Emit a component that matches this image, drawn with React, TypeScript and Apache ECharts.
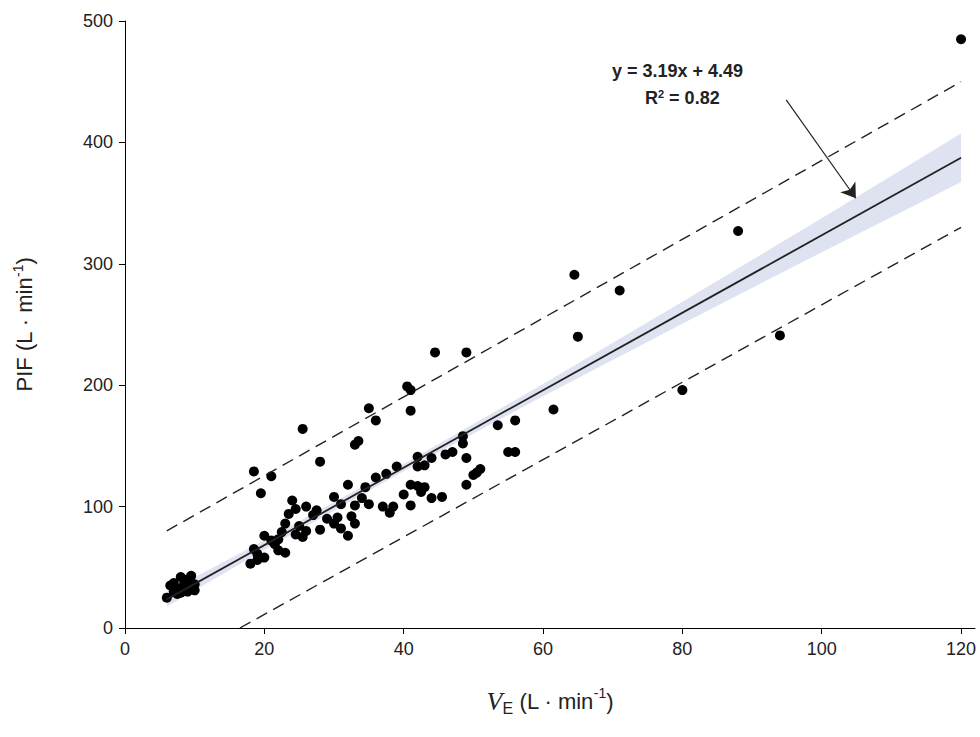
import React, { useRef, useEffect } from 'react';
import * as echarts from 'echarts';

// measured points (VE, PIF)
const points: number[][] = [
    [120, 485], [88, 327], [64.5, 291], [71, 278], [65, 240], [94, 241], [80, 196], [61.5, 180],
    [56, 171], [53.5, 167], [55, 145], [56, 145], [49, 227], [44.5, 227], [40.5, 199], [41, 196],
    [41, 179], [35, 181], [36, 171], [33, 151], [33.5, 154], [25.5, 164], [28, 137], [18.5, 129],
    [21, 125], [19.5, 111], [48.5, 158], [48.5, 152], [47, 145], [46, 143], [49, 140], [44, 140],
    [42, 141], [43, 134], [42, 133], [39, 133], [37.5, 127], [36, 124], [34.5, 116], [32, 118],
    [30, 108], [31, 102], [33, 101], [34, 107], [35, 102], [37, 100], [38.5, 100], [38, 95],
    [40, 110], [41, 118], [42, 117], [43, 116], [42.5, 112], [44, 107], [41, 101], [45.5, 108],
    [49, 118], [50.5, 128], [51, 131], [50, 126], [32.5, 92], [30, 86], [31, 82], [30.5, 91],
    [32, 76], [33, 86], [29, 90], [27.5, 97], [26, 100], [27, 93], [28, 81], [26, 80], [25, 84],
    [24, 105], [24.5, 98], [23.5, 94], [22.5, 79], [23, 86], [22, 73], [21.5, 69], [22, 64],
    [21, 72], [23, 62], [24.5, 77], [25.5, 75], [19, 61], [20, 76], [18.5, 65], [18, 53],
    [19, 56], [20, 58], [6, 25], [6.5, 35], [7, 30], [7.5, 28], [8, 33], [8.5, 38], [8, 42],
    [9, 40], [9.5, 43], [10, 36], [10, 31], [9, 30], [8, 29], [7, 37], [8.8, 35],
];

const fitLine = [[6, 23.6], [120, 387.3]];
const upperLine = [[6, 80], [120, 450]];
const lowerLine = [[16.5, 0], [120, 330]];

// confidence band around the fit
const bandX = [6, 20, 40, 60, 80, 100, 120];
const bandHalf = [6, 4, 3, 5, 9, 14, 20];

const fitAt = (x: number) => 3.19 * x + 4.49;
const bandUpper = bandX.map((x, i) => [x, fitAt(x) + bandHalf[i]]);
const bandLower = bandX.map((x, i) => [x, fitAt(x) - bandHalf[i]]);
const bandPoly = [...bandUpper, ...bandLower.slice().reverse()];

const font = 'Liberation Sans, Arial, sans-serif';

const App: React.FC = () => {
    const chartRef = useRef<HTMLDivElement>(null);

    useEffect(() => {
        if (!chartRef.current) return;
        document.body.style.margin = '0';
        const chart = echarts.init(chartRef.current, undefined, { renderer: 'svg' });
        chart.setOption({
            animation: false,
            backgroundColor: '#fff',
            grid: { left: 125, right: 5, top: 21, bottom: 109 },
            xAxis: {
                type: 'value', min: 0, max: 122, interval: 20,
                splitLine: { show: false },
                axisLine: { onZero: false, lineStyle: { color: '#000' } },
                axisTick: { length: 6, lineStyle: { color: '#000' } },
                axisLabel: { color: '#222', fontSize: 18, fontFamily: font, margin: 12, showMaxLabel: false },
                name: '{v|V}{sub|E}{t| (L · min}{sup|-1}{t|)}',
                nameLocation: 'middle', nameGap: 58,
                nameTextStyle: {
                    rich: {
                        v: { fontFamily: 'Liberation Serif, serif', fontStyle: 'italic', fontSize: 26, color: '#222' },
                        sub: { fontFamily: font, fontSize: 16, color: '#222', verticalAlign: 'bottom', padding: [14, 0, 0, 0] },
                        t: { fontFamily: font, fontSize: 22, color: '#222' },
                        sup: { fontFamily: font, fontSize: 14, color: '#222', verticalAlign: 'top', padding: [0, 0, 12, 0] },
                    },
                },
            },
            yAxis: {
                type: 'value', min: 0, max: 500, interval: 100,
                splitLine: { show: false },
                axisLine: { show: true, lineStyle: { color: '#000' } },
                axisTick: { show: true, length: 6, lineStyle: { color: '#000' } },
                axisLabel: { color: '#222', fontSize: 18, fontFamily: font, margin: 12 },
                name: '{t|PIF (L · min}{sup|-1}{t|)}',
                nameLocation: 'middle', nameGap: 88, nameRotate: 90,
                nameTextStyle: {
                    rich: {
                        t: { fontFamily: font, fontSize: 22, color: '#222' },
                        sup: { fontFamily: font, fontSize: 14, color: '#222', verticalAlign: 'top', padding: [0, 0, 12, 0] },
                    },
                },
            },
            series: [
                {
                    type: 'custom', silent: true, data: [0],
                    renderItem: (_p: any, api: any) => ({
                        type: 'polygon',
                        shape: { points: bandPoly.map((d) => api.coord(d)) },
                        style: { fill: '#dbe0f0', opacity: 0.9 },
                    }),
                },
                {
                    type: 'line', data: fitLine, symbol: 'none',
                    lineStyle: { color: '#222', width: 1.8 },
                    markLine: {
                        silent: true, symbol: ['none', 'arrow'], symbolSize: 14,
                        lineStyle: { color: '#222', width: 1.2, type: 'solid' },
                        label: { show: false },
                        data: [[{ coord: [94.9, 435] }, { coord: [104.9, 354] }]],
                    },
                },
                { type: 'line', data: upperLine, symbol: 'none', lineStyle: { color: '#222', width: 1.4, type: [12, 7] } },
                { type: 'line', data: lowerLine, symbol: 'none', lineStyle: { color: '#222', width: 1.4, type: [12, 7] } },
                {
                    type: 'scatter', data: points, symbolSize: 10, clip: false,
                    itemStyle: { color: '#000', opacity: 1 },
                },
            ],
            graphic: [
                {
                    type: 'text', left: 612, top: 62,
                    style: { text: 'y = 3.19x + 4.49', font: 'bold 18px ' + font, fill: '#222' },
                },
                {
                    type: 'text', left: 645, top: 88,
                    style: {
                        text: '{t|R}{s|2}{t| = 0.82}',
                        rich: {
                            t: { font: 'bold 18px ' + font, fill: '#222' } as any,
                            s: { font: 'bold 11px ' + font, fill: '#222', verticalAlign: 'top', padding: [0, 0, 8, 0] } as any,
                        },
                    },
                },
            ],
        });
        return () => chart.dispose();
    }, []);

    return <div ref={chartRef} style={{ width: 980, height: 737 }}></div>;
};

export default App;
